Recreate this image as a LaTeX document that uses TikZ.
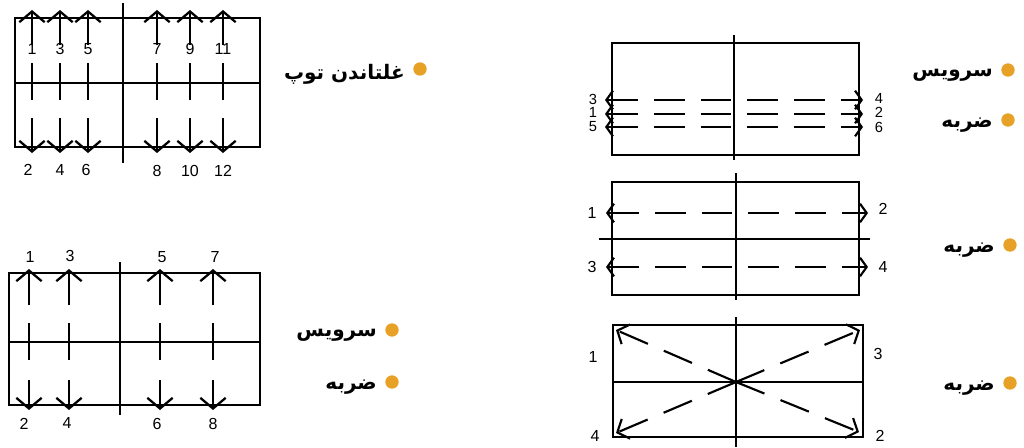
\documentclass[tikz,border=0pt]{standalone}
\usepackage{fontspec}
\setmainfont{Liberation Sans}
\newfontfamily\arabicfont[Script=Arabic]{DejaVu Sans}
\TeXXeTstate=1
\usetikzlibrary{arrows.meta,positioning}

\begin{document}
\begin{tikzpicture}[
  x=0.75pt, y=-0.75pt,
  court/.style={line width=1.8pt, draw=black},
  vshot/.style={line width=1.7pt, -{Straight Barb[length=8pt,width=19pt]}, dash pattern=on 27.75pt off 13.5pt},
  vdrop/.style={line width=1.7pt, -{Straight Barb[length=8pt,width=19pt]}},
  hshot/.style={line width=1.6pt, {Straight Barb[length=5pt,width=14pt]}-{Straight Barb[length=5pt,width=14pt]},
    dash pattern=on 23pt off 12pt},
  dshot/.style={line width=1.6pt, -{Straight Barb[length=7pt,width=16pt]}, dash pattern=on 23pt off 13pt},
  num/.style={font=\fontsize{12}{12}\selectfont, inner sep=1pt},
  smallnum/.style={font=\fontsize{11}{11}\selectfont, inner sep=0.5pt},
  dot/.style={circle, fill=BOrange, minimum size=10pt, inner sep=0pt},
  tag/.style={font=\arabicfont\bfseries\fontsize{15}{17}\selectfont, inner sep=1pt, yshift=-4pt}
]
\definecolor{BOrange}{HTML}{E6A126}
\useasboundingbox (0,0) rectangle (1024,447);

% rolling the ball
\draw[court] (15,18) rectangle (260,147);
\draw[court] (15,83) -- (260,83);
\draw[court] (123,3) -- (123,163);
\draw[vshot] (32,100) -- (32,10);
\draw[vshot] (60,100) -- (60,10);
\draw[vshot] (88,100) -- (88,10);
\draw[vshot] (157,100) -- (157,10);
\draw[vshot] (190,100) -- (190,10);
\draw[vshot] (223,100) -- (223,10);
\draw[vdrop] (32,118) -- (32,153);
\draw[vdrop] (60,118) -- (60,153);
\draw[vdrop] (88,118) -- (88,153);
\draw[vdrop] (157,118) -- (157,153);
\draw[vdrop] (190,118) -- (190,153);
\draw[vdrop] (223,118) -- (223,153);
\node[num] (r1) at (32,49) {1};
\node[num] (r3) at (60,49) {3};
\node[num] (r5) at (88,49) {5};
\node[num] (r7) at (157,49) {7};
\node[num] (r9) at (190,49) {9};
\node[num] (r11) at (223,49) {11};
\node[num] (r2) at (28,170) {2};
\node[num] (r4) at (60,170) {4};
\node[num] (r6) at (86,170) {6};
\node[num] (r8) at (157,171) {8};
\node[num] (r10) at (190,171) {10};
\node[num] (r12) at (223,171) {12};

% serve and hit, left
\draw[court] (9,273) rectangle (260,405);
\draw[court] (9,342) -- (260,342);
\draw[court] (120,262) -- (120,415);
\draw[vshot] (29,360) -- (29,269);
\draw[vshot] (69,360) -- (69,269);
\draw[vshot] (160,360) -- (160,269);
\draw[vshot] (213,360) -- (213,269);
\draw[vdrop] (29,380) -- (29,410);
\draw[vdrop] (69,380) -- (69,410);
\draw[vdrop] (160,380) -- (160,410);
\draw[vdrop] (213,380) -- (213,410);
\node[num] (s1) at (30,257) {1};
\node[num] (s3) at (70,256) {3};
\node[num] (s5) at (162,257) {5};
\node[num] (s7) at (215,257) {7};
\node[num] (s2) at (24,424) {2};
\node[num] (s4) at (67,423) {4};
\node[num] (s6) at (157,424) {6};
\node[num] (s8) at (213,424) {8};

% serve and hit, right
\draw[court] (612,43) rectangle (859,155);
\draw[court] (734,35) -- (734,160);
\draw[hshot] (605,100) -- (863,100);
\draw[hshot] (605,114) -- (863,114);
\draw[hshot] (605,127) -- (863,127);
\node[smallnum] (a3) at (593,99) {3};
\node[smallnum] (a1) at (593,112) {1};
\node[smallnum] (a5) at (593,127) {5};
\node[smallnum] (a4) at (879,98) {4};
\node[smallnum] (a2) at (879,112) {2};
\node[smallnum] (a6) at (879,127) {6};

% hit, middle right
\draw[court] (612,182) rectangle (859,295);
\draw[court] (599,239) -- (870,239);
\draw[court] (736,173) -- (736,300);
\draw[hshot] (606,213) -- (868,213);
\draw[hshot] (606,267) -- (868,267);
\node[num] (b1) at (592,213) {1};
\node[num] (b2) at (883,209) {2};
\node[num] (b3) at (592,267) {3};
\node[num] (b4) at (883,267) {4};

% hit, bottom right
\draw[court] (613,325) rectangle (863,437);
\draw[court] (613,382) -- (863,382);
\draw[court] (736,317) -- (736,447);
\coordinate (mid) at (736,382);
\draw[dshot] (mid) -- (616,330);
\draw[dshot] (mid) -- (860,330);
\draw[dshot] (mid) -- (616,433);
\draw[dshot] (mid) -- (859,432);
\node[num] (c1) at (593,357) {1};
\node[num] (c3) at (878,354) {3};
\node[num] (c4) at (595,436) {4};
\node[num] (c2) at (880,436) {2};

% labels
\node[dot] (d1) at (420,69) {};
\node[tag, left=5pt of d1] (t1) {\beginR غلتاندن توپ\endR};
\node[dot] (d2) at (392,330) {};
\node[tag, left=5pt of d2] (t2) {\beginR سرویس\endR};
\node[dot] (d3) at (392,382) {};
\node[tag, left=5pt of d3] (t3) {\beginR ضربه\endR};
\node[dot] (d4) at (1008,70) {};
\node[tag, left=5pt of d4] (t4) {\beginR سرویس\endR};
\node[dot] (d5) at (1008,120) {};
\node[tag, left=5pt of d5] (t5) {\beginR ضربه\endR};
\node[dot] (d6) at (1010,245) {};
\node[tag, left=5pt of d6] (t6) {\beginR ضربه\endR};
\node[dot] (d7) at (1010,383) {};
\node[tag, left=5pt of d7] (t7) {\beginR ضربه\endR};
\end{tikzpicture}
\end{document}
